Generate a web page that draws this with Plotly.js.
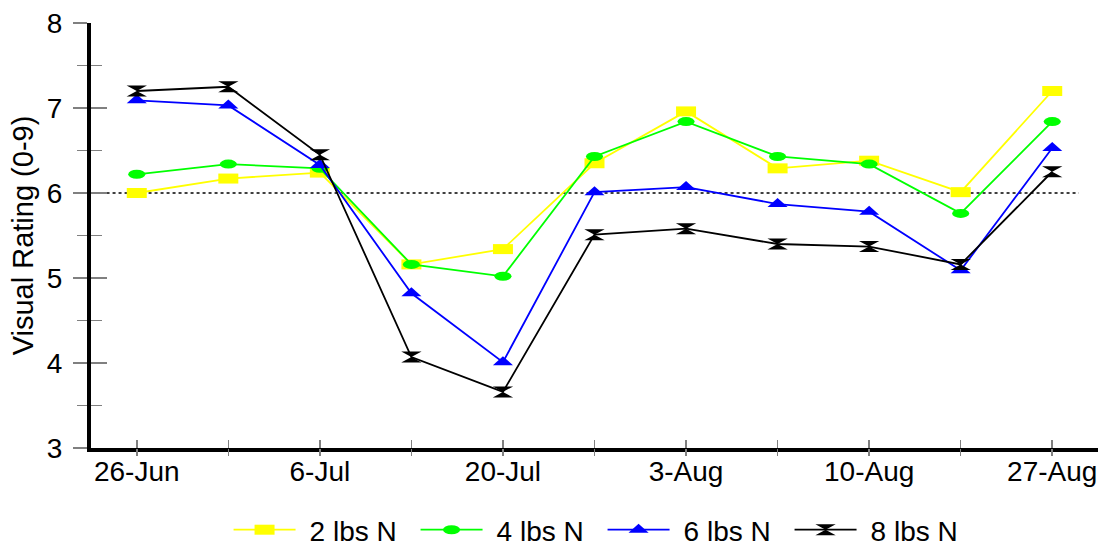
<!DOCTYPE html>
<html><head><meta charset="utf-8">
<script src="https://cdn.plot.ly/plotly-3.0.1.min.js"></script>
<style>html,body{margin:0;padding:0;background:#fff}#chart{width:1110px;height:550px}</style>
</head><body><div id="chart"></div>
<script>
// ---- data ----
const xIndex = [0, 1, 2, 3, 4, 5, 6, 7, 8, 9, 10];
const tickLabels = ['26-Jun', '', '6-Jul', '', '20-Jul', '', '3-Aug', '', '10-Aug', '', '27-Aug'];
const seriesNames = ['2 lbs N', '4 lbs N', '6 lbs N', '8 lbs N'];
const lbs2 = [6.00, 6.17, 6.24, 5.16, 5.34, 6.35, 6.96, 6.29, 6.38, 6.01, 7.20];
const lbs4 = [6.22, 6.34, 6.29, 5.16, 5.02, 6.43, 6.84, 6.43, 6.34, 5.76, 6.84];
const lbs6 = [7.09, 7.03, 6.33, 4.82, 4.01, 6.01, 6.07, 5.87, 5.78, 5.09, 6.53];
const lbs8 = [7.20, 7.25, 6.45, 4.07, 3.66, 5.51, 5.58, 5.40, 5.37, 5.16, 6.25];
const referenceLevel = 6;

// ---- style ----
const colors = ['#FFFF00', '#00FF00', '#0000FF', '#000000'];
const symbols = ['square', 'circle', 'triangle-up', 'hourglass'];
const msizes = [10, 9, 12, 11];
const xStretch = [2, 1.9, 1.45, 1.85];
const FONT = 'Liberation Sans, Arial, sans-serif';
const TICKC = '#808080';

const allSeries = [lbs2, lbs4, lbs6, lbs8];
const traces = allSeries.map((ys, i) => ({
  type: 'scatter', mode: 'lines+markers', name: seriesNames[i],
  x: xIndex, y: ys,
  line: {color: colors[i], width: 1.8},
  marker: {symbol: symbols[i], size: msizes[i], color: colors[i], line: {width: 0}},
  cliponaxis: false
}));
// empty helper traces so the overlay axes (second set of tick marks) get drawn
traces.push({type: 'scatter', x: [], y: [], xaxis: 'x2', yaxis: 'y', showlegend: false, hoverinfo: 'skip'});
traces.push({type: 'scatter', x: [], y: [], xaxis: 'x', yaxis: 'y2', showlegend: false, hoverinfo: 'skip'});

const layout = {
  width: 1110, height: 550,
  margin: {l: 91, r: 12, t: 23, b: 102},
  paper_bgcolor: '#fff', plot_bgcolor: '#fff',
  font: {family: FONT, color: '#000'},
  showlegend: true,
  legend: {orientation: 'h', x: 0.508, xanchor: 'center', xref: 'paper',
           y: 20 / 550, yanchor: 'middle', yref: 'container',
           font: {size: 28, family: FONT}, itemwidth: 71, entrywidth: 101, entrywidthmode: 'pixels',
           traceorder: 'normal', bgcolor: 'rgba(0,0,0,0)'},
  xaxis: {
    range: [-0.5, 10.5], tickmode: 'array', tickvals: xIndex, ticktext: tickLabels,
    ticks: 'inside', ticklen: 8, tickwidth: 1.5, tickcolor: TICKC,
    showline: true, linecolor: '#000', linewidth: 4, showgrid: false, zeroline: false,
    tickfont: {size: 28, family: FONT, color: '#000'}, ticklabelstandoff: -5, anchor: 'y'
  },
  xaxis2: {
    overlaying: 'x', anchor: 'y', side: 'bottom', range: [-0.5, 10.5],
    tickmode: 'array', tickvals: xIndex, ticks: 'outside', ticklen: 7, tickwidth: 1.5, tickcolor: TICKC,
    showticklabels: false, showline: false, showgrid: false, zeroline: false
  },
  yaxis: {
    range: [3, 8], tickmode: 'linear', tick0: 3, dtick: 1,
    ticks: 'outside', ticklen: 14, tickwidth: 1.5, tickcolor: TICKC,
    minor: {dtick: 0.5, ticks: 'outside', ticklen: 10, tickwidth: 1.5, tickcolor: TICKC, showgrid: false},
    showline: true, linecolor: '#000', linewidth: 4, showgrid: false, zeroline: false,
    tickfont: {size: 28, family: FONT, color: '#000'}, ticklabelstandoff: 5,
    title: {text: 'Visual Rating (0-9)', font: {size: 29, family: FONT, color: '#000'}, standoff: 6},
    anchor: 'x'
  },
  yaxis2: {
    overlaying: 'y', anchor: 'x', side: 'left', range: [3, 8], tickmode: 'linear', tick0: 3, dtick: 1,
    ticks: 'inside', ticklen: 16, tickwidth: 1.5, tickcolor: TICKC,
    minor: {dtick: 0.5, ticks: 'inside', ticklen: 11, tickwidth: 1.5, tickcolor: TICKC, showgrid: false},
    showticklabels: false, showline: false, showgrid: false, zeroline: false
  },
  shapes: [{
    type: 'line', xref: 'x', yref: 'y', x0: -0.33, x1: 10.29, y0: referenceLevel, y1: referenceLevel,
    line: {color: '#000', width: 1.5, dash: 'dot'}, layer: 'below'
  }]
};

Plotly.newPlot('chart', traces, layout, {displayModeBar: false, staticPlot: true}).then(gd => {
  const stretch = (p, i, tx) => {
    let t = p.getAttribute('transform') || '';
    t = t.replace(/\s*scale\([^)]*\)/, '');
    if (tx !== undefined) t = 'translate(' + tx + ',0)';
    p.setAttribute('transform', t + ' scale(' + xStretch[i] + ',1)');
  };
  const main = gd.querySelector('.subplot.xy .scatterlayer');
  main.querySelectorAll('.trace').forEach((tr, i) => {
    if (i < 4) tr.querySelectorAll('.points path').forEach(p => stretch(p, i));
  });
  gd.querySelectorAll('.legend .traces').forEach((tr, i) => {
    tr.querySelectorAll('.legendlines path').forEach(p => {
      p.setAttribute('d', 'M5,0h62');
      p.removeAttribute('transform');
    });
    tr.querySelectorAll('.legendpoints path').forEach(p => stretch(p, i, 36));
  });
});
</script></body></html>
